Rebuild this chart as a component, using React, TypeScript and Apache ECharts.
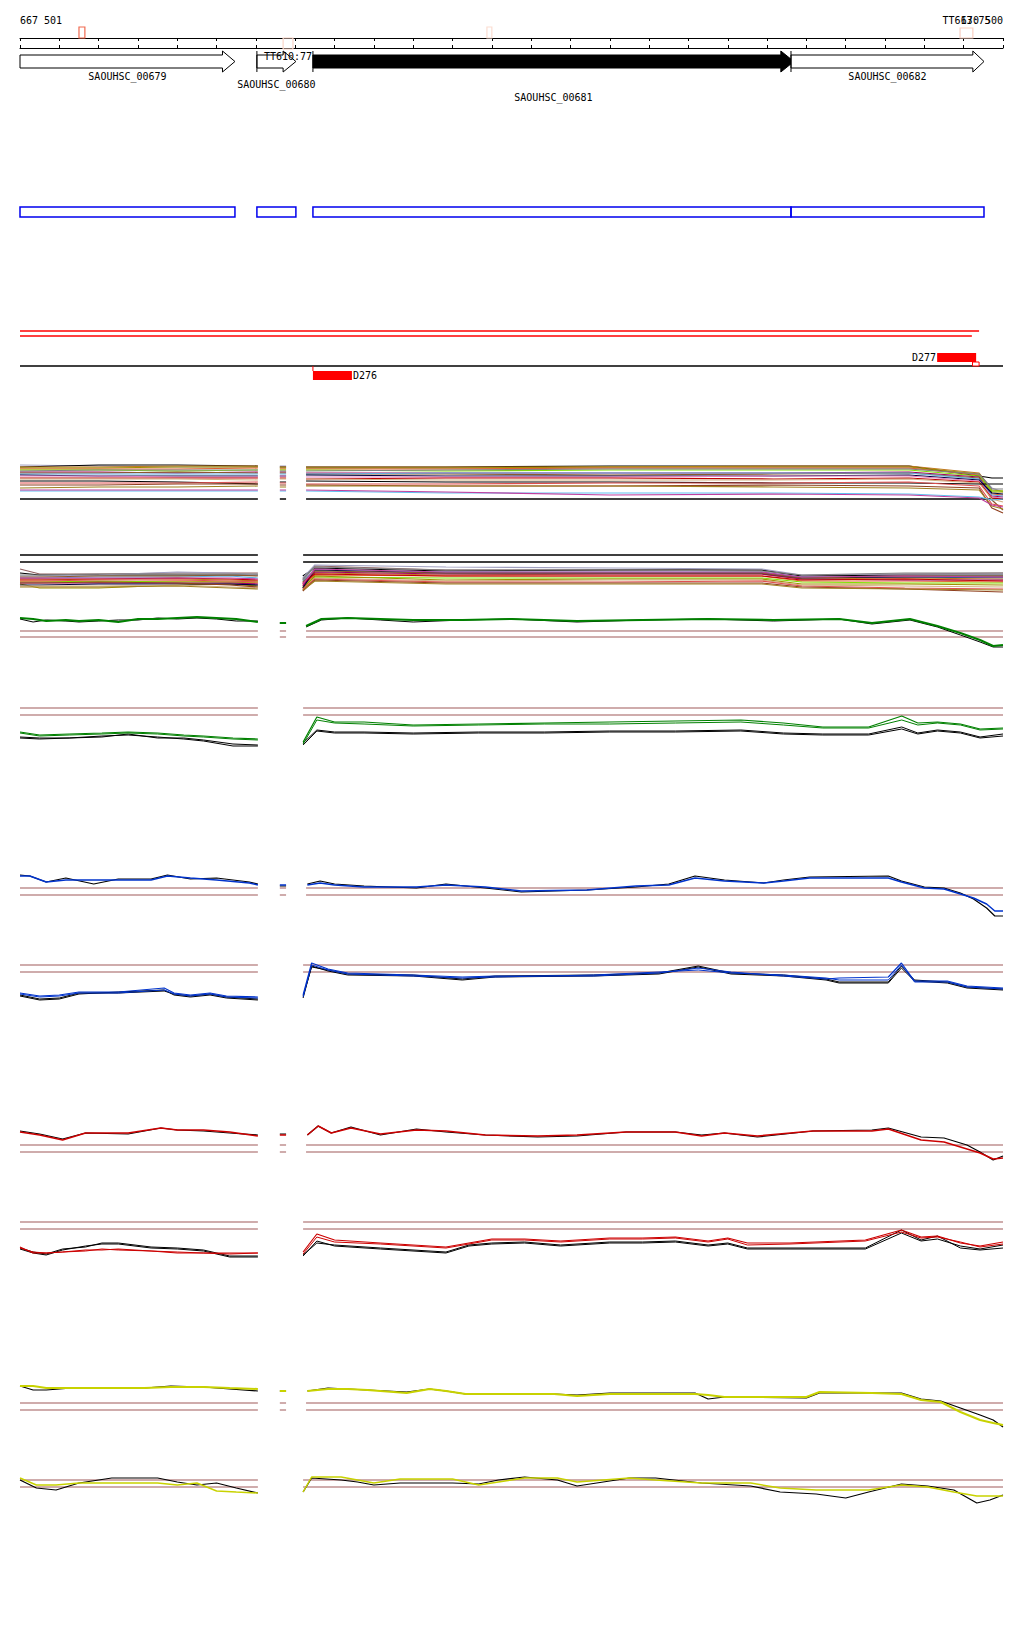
import React, { useEffect, useRef } from "react";
import * as echarts from "echarts";

// ---------------- data ----------------
const X_MIN = 0;
const X_MAX = 3000;
const TICK = 120;
const RULER_LABELS = ["667 501", "670 500"];
const SEGMENT_BREAKS = [760, 840];
const SEG_ODD = [[0, 726], [793, 812], [873, 3000]];
const SEG_EVEN = [[0, 726], [864, 3000]];

// ruler markers (TT sites)
const MARK_START = [180, 803, 1425, 2869];
const MARK_END = [198, 833, 1440, 2908];
const MARK_TOP = [33, 22, 33, 32];
const MARK_BOTTOM = [22, 11, 22, 22];
const MARK_COLOR = ["#f06a50", "#fbd5c8", "#fbddd2", "#f8cfc2"];
const MARK_LABEL = ["", "TT610:77", "", "TT613:75"];
const MARK_LABEL_V = [0, 4, 0, 40];

// genes
const GENE_NAMES = ["SAOUHSC_00679", "SAOUHSC_00680", "SAOUHSC_00681", "SAOUHSC_00682"];
const GENE_START = [0, 723, 894, 2353];
const GENE_END = [656, 842, 2362, 2942];
const GENE_HEAD = [618, 803, 2322, 2908];
const GENE_FILLED = [false, false, true, false];
const GENE_START_MARK = [false, true, true, true];
const GENE_LABEL_LEVEL = [0, 1, 2, 0];

// CDS boxes
const BOX_START = [0, 723, 894, 2353];
const BOX_END = [656, 842, 2353, 2942];

// feature track
const FEAT_RED_END = [2927, 2905];
const FEAT_RED_LEVEL = [49, 44];
const FEAT_AXIS_LEVEL = 14;
const D_NAMES = ["D276", "D277"];
const D_START = [894, 2799];
const D_END = [1013, 2918];
const D_TOP = [9, 27];
const D_BOTTOM = [0, 18];
const D_LABEL_SIDE = ["right", "left"];
const SMALL_BOX = [2907, 2927, 18, 14];

// panel 1 (multi-colour)
const X_P1 = [0, 240, 480, 726, 793, 812, 873, 1300, 1800, 2300, 2713, 2927, 2966, 3000];
const P1_COLORS = ["#a0a0c0", "#000000", "#c07820", "#a09000", "#e06030", "#80e000", "#a00060", "#8b5a2b", "#60b0e0", "#000040", "#e080c0", "#c00000", "#d0b080", "#000000", "#e05050", "#904020", "#a08020", "#60c0f0", "#c040a0", "#808080"];
const P1_VALUES = [
  [35, 34, 33, 33, 34, 34, 32, 32, 32, 32, 32, 26, 12, 8],
  [33, 35, 35, 34, 33, 33, 33, 33, 34, 34, 34, 24, 22, 22],
  [33, 33, 34, 34, 33, 33, 33, 33, 33, 34, 34, 27, 10, 9],
  [32, 32, 33, 33, 32, 32, 32, 32, 33, 33, 33, 26, 8, 8],
  [31, 31, 31, 32, 31, 31, 31, 31, 32, 32, 32, 25, 6, 5],
  [30, 30, 29, 30, 30, 30, 30, 29, 30, 30, 30, 24, 9, 9],
  [28, 28, 27, 28, 28, 28, 27, 27, 27, 27, 28, 23, 4, 3],
  [27, 27, 28, 27, 27, 27, 26, 26, 25, 26, 27, 22, 0, -10],
  [26, 26, 26, 26, 26, 26, 26, 27, 27, 27, 27, 21, 5, 4],
  [25, 24, 24, 24, 24, 24, 25, 24, 24, 24, 25, 20, 7, 6],
  [24, 24, 23, 23, 24, 24, 23, 23, 23, 24, 24, 19, 3, 2],
  [22, 22, 22, 22, 22, 22, 21, 22, 22, 21, 22, 18, 2, 1],
  [21, 21, 21, 20, 21, 21, 21, 20, 20, 20, 21, 17, 1, -2],
  [19, 19, 18, 16, 18, 18, 19, 18, 18, 17, 17, 16, 16, 16],
  [17, 17, 17, 18, 17, 17, 16, 16, 17, 17, 18, 14, -4, -6],
  [15, 15, 16, 16, 15, 15, 15, 14, 14, 15, 14, 12, -8, -13],
  [12, 13, 13, 14, 13, 13, 14, 14, 14, 13, 12, 10, -6, -9],
  [9, 9, 9, 9, 9, 9, 9, 7, 7, 7, 6, 3, 0, 1],
  [10, 10, 10, 10, 10, 10, 10, 8, 5, 6, 5, 2, -5, -7],
  [29, 30, 30, 30, 29, 29, 29, 30, 31, 31, 31, 26, 11, 11],
];

// panel 2 (multi-colour)
const X_P2 = [0, 60, 240, 480, 640, 726, 863, 900, 1300, 1800, 2264, 2386, 2700, 3000];
const P2_COLORS = ["#906060", "#000000", "#a0a0c0", "#60b0e0", "#c07820", "#e06030", "#80e000", "#a09000", "#a00060", "#000040", "#c00000", "#8b5a2b", "#d0b080", "#e05050", "#904020", "#c040a0", "#a08020", "#808080"];
const P2_VALUES = [
  [31, 26, 26, 27, 27, 27, 20, 34, 30, 30, 30, 24, 26, 27],
  [27, 25, 25, 25, 25, 25, 24, 32, 29, 30, 30, 24, 25, 25],
  [24, 24, 25, 28, 27, 25, 22, 35, 33, 32, 31, 25, 26, 26],
  [22, 22, 23, 23, 24, 22, 19, 30, 28, 28, 28, 23, 23, 22],
  [20, 20, 21, 21, 20, 19, 16, 27, 25, 26, 26, 21, 22, 21],
  [19, 19, 18, 19, 18, 17, 15, 25, 24, 24, 24, 19, 19, 18],
  [18, 18, 19, 18, 18, 18, 13, 23, 22, 22, 22, 18, 17, 17],
  [16, 12, 12, 15, 16, 14, 12, 24, 20, 21, 21, 16, 16, 15],
  [17, 17, 17, 17, 17, 16, 14, 28, 26, 26, 26, 21, 20, 20],
  [15, 15, 16, 16, 16, 15, 12, 30, 27, 27, 27, 22, 23, 23],
  [21, 21, 21, 22, 21, 20, 17, 26, 24, 24, 24, 20, 21, 19],
  [23, 23, 24, 24, 25, 24, 18, 29, 27, 27, 27, 22, 24, 24],
  [14, 14, 14, 15, 13, 12, 10, 22, 19, 20, 20, 15, 14, 13],
  [19, 19, 20, 20, 19, 18, 11, 21, 18, 18, 19, 14, 12, 11],
  [17, 17, 18, 17, 15, 13, 9, 20, 17, 17, 17, 13, 11, 8],
  [22, 22, 22, 22, 22, 21, 16, 31, 28, 28, 28, 23, 24, 23],
  [13, 13, 13, 14, 12, 11, 10, 19, 16, 16, 16, 12, 11, 10],
  [25, 25, 26, 26, 26, 26, 21, 33, 30, 30, 29, 25, 27, 27],
];

// panel 3 (green)
const X_P3 = [0, 40, 80, 140, 180, 240, 300, 360, 420, 480, 540, 600, 660, 726, 793, 812, 873, 920, 1000, 1100, 1200, 1350, 1500, 1700, 1900, 2100, 2300, 2500, 2600, 2716, 2800, 2870, 2930, 2970, 3000];
const P3_COLORS = ["#000000", "#008000"];
const P3_VALUES = [
  [41, 38, 40, 39, 38, 39, 40, 40, 42, 41, 42, 41, 39, 39, 37, 37, 33, 40, 42, 40, 38, 40, 41, 38, 40, 41, 39, 41, 36, 40, 33, 25, 18, 13, 13],
  [42, 41, 39, 40, 39, 40, 38, 41, 41, 42, 43, 42, 41, 38, 37, 37, 34, 41, 42, 41, 40, 40, 41, 39, 40, 41, 40, 41, 37, 41, 34, 27, 20, 14, 15],
];

// panel 4 (green)
const X_P4 = [0, 60, 150, 250, 330, 420, 500, 560, 650, 726, 864, 906, 960, 1050, 1200, 1400, 1600, 1800, 2000, 2200, 2330, 2450, 2590, 2691, 2740, 2800, 2870, 2930, 3000];
const P4_COLORS = ["#000000", "#000000", "#008000", "#008000"];
const P4_VALUES = [
  [23, 22, 22, 23, 26, 22, 22, 20, 16, 15, 17, 30, 28, 28, 27, 28, 28, 29, 29, 30, 27, 26, 26, 33, 27, 30, 28, 23, 26],
  [22, 21, 22, 24, 25, 23, 21, 19, 14, 14, 15, 29, 27, 27, 26, 27, 27, 28, 28, 29, 26, 25, 25, 31, 26, 29, 27, 22, 24],
  [28, 25, 26, 27, 28, 27, 25, 24, 22, 21, 18, 43, 38, 38, 35, 36, 37, 38, 39, 40, 37, 33, 33, 44, 37, 38, 36, 31, 32],
  [27, 24, 25, 26, 27, 26, 24, 23, 21, 20, 16, 40, 37, 36, 34, 35, 36, 36, 37, 38, 35, 32, 32, 40, 35, 37, 35, 30, 31],
];

// panel 5 (blue)
const X_P5 = [0, 30, 80, 140, 225, 300, 400, 450, 520, 600, 700, 726, 793, 812, 877, 916, 960, 1050, 1210, 1300, 1420, 1530, 1730, 1880, 1980, 2060, 2150, 2270, 2330, 2410, 2650, 2690, 2760, 2820, 2870, 2910, 2950, 2975, 3000];
const P5_COLORS = ["#000000", "#0033cc"];
const P5_VALUES = [
  [55, 54, 48, 52, 46, 51, 51, 55, 51, 52, 48, 46, 44, 44, 46, 49, 46, 44, 42, 46, 42, 38, 40, 43, 46, 54, 50, 47, 50, 53, 54, 49, 43, 42, 37, 31, 22, 14, 14],
  [54, 54, 48, 50, 50, 50, 50, 54, 52, 50, 47, 45, 45, 45, 45, 47, 45, 43, 43, 45, 43, 39, 40, 44, 45, 52, 49, 47, 49, 52, 52, 48, 42, 41, 36, 32, 26, 19, 19],
];

// panel 6 (blue)
const X_P6 = [0, 60, 120, 180, 300, 440, 470, 520, 580, 630, 726, 864, 890, 940, 1000, 1200, 1350, 1450, 1750, 1950, 2070, 2170, 2330, 2460, 2500, 2650, 2690, 2730, 2830, 2890, 3000];
const P6_COLORS = ["#000000", "#000000", "#0033cc", "#0033cc"];
const P6_VALUES = [
  [15, 11, 12, 17, 17, 19, 16, 14, 16, 13, 11, 14, 43, 40, 36, 35, 31, 34, 35, 37, 44, 37, 35, 31, 28, 28, 44, 30, 28, 23, 21],
  [14, 10, 11, 16, 18, 20, 15, 13, 15, 12, 10, 12, 44, 39, 35, 34, 30, 33, 34, 36, 43, 36, 34, 30, 27, 27, 42, 29, 27, 22, 20],
  [17, 14, 15, 18, 18, 22, 17, 15, 17, 14, 13, 15, 47, 41, 37, 35, 33, 34, 34, 37, 42, 38, 34, 31, 32, 33, 47, 29, 29, 24, 22],
  [16, 13, 14, 17, 17, 20, 16, 14, 16, 13, 12, 13, 45, 40, 36, 34, 32, 33, 35, 38, 40, 37, 35, 32, 30, 30, 45, 28, 28, 23, 21],
];

// panel 7 (red)
const X_P7 = [0, 60, 130, 200, 330, 430, 480, 560, 640, 726, 793, 812, 877, 910, 950, 1010, 1100, 1210, 1300, 1420, 1580, 1700, 1850, 2000, 2080, 2150, 2250, 2420, 2600, 2650, 2750, 2820, 2890, 2930, 2970, 3000];
const P7_COLORS = ["#000000", "#cc0000"];
const P7_VALUES = [
  [49, 46, 41, 47, 46, 52, 50, 49, 47, 45, 46, 46, 45, 54, 47, 53, 45, 51, 48, 45, 43, 44, 48, 48, 45, 47, 43, 49, 50, 52, 43, 42, 35, 28, 20, 24],
  [48, 45, 40, 47, 47, 52, 50, 50, 48, 44, 45, 45, 45, 54, 47, 52, 46, 50, 49, 45, 44, 45, 48, 48, 44, 47, 44, 49, 49, 51, 40, 38, 31, 27, 21, 22],
];

// panel 8 (red)
const X_P8 = [0, 40, 80, 130, 200, 250, 300, 400, 480, 560, 640, 726, 864, 906, 960, 1100, 1300, 1370, 1440, 1540, 1650, 1800, 1900, 2000, 2100, 2160, 2220, 2350, 2580, 2690, 2750, 2800, 2870, 2930, 3000];
const P8_COLORS = ["#000000", "#000000", "#cc0000", "#cc0000"];
const P8_VALUES = [
  [22, 18, 16, 21, 23, 27, 27, 23, 22, 20, 14, 14, 15, 27, 25, 22, 18, 25, 27, 28, 25, 28, 28, 29, 25, 27, 22, 22, 22, 40, 30, 34, 22, 20, 22],
  [21, 17, 15, 20, 24, 26, 26, 22, 21, 19, 13, 13, 14, 29, 24, 21, 17, 24, 26, 27, 24, 27, 27, 28, 24, 26, 21, 21, 21, 37, 29, 31, 24, 21, 25],
  [23, 17, 17, 18, 20, 20, 21, 19, 17, 17, 17, 17, 18, 36, 30, 27, 23, 27, 31, 31, 29, 32, 32, 33, 29, 32, 27, 27, 30, 40, 33, 34, 27, 24, 28],
  [22, 18, 17, 18, 19, 21, 20, 19, 18, 17, 16, 17, 16, 33, 28, 26, 22, 26, 30, 30, 28, 31, 31, 32, 28, 31, 25, 26, 29, 38, 32, 33, 28, 23, 26],
];

// panel 9 (yellow)
const X_P9 = [0, 40, 80, 160, 240, 300, 380, 460, 560, 640, 726, 793, 812, 877, 940, 1000, 1060, 1180, 1250, 1300, 1360, 1630, 1700, 1800, 2060, 2100, 2150, 2400, 2440, 2600, 2690, 2750, 2810, 2870, 2930, 2970, 3000];
const P9_COLORS = ["#000000", "#c8d200"];
const P9_VALUES = [
  [54, 50, 50, 52, 52, 52, 52, 54, 53, 51, 49, 49, 49, 49, 52, 51, 50, 48, 51, 49, 46, 46, 45, 47, 47, 41, 43, 42, 47, 47, 47, 41, 39, 32, 25, 20, 13],
  [54, 54, 52, 52, 52, 52, 52, 53, 53, 52, 51, 49, 49, 49, 51, 51, 50, 47, 51, 49, 46, 46, 44, 46, 46, 45, 43, 43, 48, 47, 46, 40, 38, 28, 20, 17, 15],
];

// panel 10 (yellow)
const X_P10 = [0, 50, 110, 180, 280, 420, 480, 540, 600, 660, 726, 864, 890, 980, 1030, 1080, 1160, 1320, 1400, 1460, 1540, 1640, 1700, 1860, 1940, 2080, 2230, 2320, 2430, 2520, 2590, 2690, 2770, 2850, 2920, 2960, 3000];
const P10_COLORS = ["#000000", "#c8d200"];
const P10_VALUES = [
  [40, 32, 30, 37, 42, 42, 38, 35, 37, 32, 27, 28, 42, 40, 38, 35, 37, 37, 36, 40, 43, 40, 34, 42, 42, 37, 34, 28, 26, 22, 28, 36, 34, 30, 17, 20, 25],
  [42, 35, 35, 37, 37, 37, 35, 37, 29, 28, 27, 28, 43, 43, 40, 37, 41, 41, 35, 38, 42, 42, 38, 42, 40, 37, 37, 32, 30, 30, 30, 35, 33, 28, 24, 24, 24],
];

// ---------------- layout / style ----------------
const GRID_LEFT = 20;
const GRID_WIDTH = 983;
const FONT = '10px "DejaVu Sans Mono"';
const REF_COLOR = "#a05a5a";

const PANELS = [
  { top: 455, height: 65, min: -20, max: 45, xs: X_P1, colors: P1_COLORS, values: P1_VALUES, segs: SEG_ODD, refs: [], blacks: [1], widths: [] as number[] },
  { top: 540, height: 60, min: 0, max: 60, xs: X_P2, colors: P2_COLORS, values: P2_VALUES, segs: SEG_EVEN, refs: [], blacks: [45, 38], widths: [] },
  { top: 600, height: 60, min: 0, max: 60, xs: X_P3, colors: P3_COLORS, values: P3_VALUES, segs: SEG_ODD, refs: [29, 23], blacks: [], widths: [1, 2] },
  { top: 690, height: 70, min: 0, max: 70, xs: X_P4, colors: P4_COLORS, values: P4_VALUES, segs: SEG_EVEN, refs: [52, 45], blacks: [], widths: [1, 1, 1.2, 1] },
  { top: 860, height: 70, min: 0, max: 70, xs: X_P5, colors: P5_COLORS, values: P5_VALUES, segs: SEG_ODD, refs: [42, 35], blacks: [], widths: [1.2, 1.5] },
  { top: 940, height: 70, min: 0, max: 70, xs: X_P6, colors: P6_COLORS, values: P6_VALUES, segs: SEG_EVEN, refs: [45, 38], blacks: [], widths: [1, 1, 1.2, 1] },
  { top: 1110, height: 70, min: 0, max: 70, xs: X_P7, colors: P7_COLORS, values: P7_VALUES, segs: SEG_ODD, refs: [35, 28], blacks: [], widths: [1.2, 1.5] },
  { top: 1200, height: 70, min: 0, max: 70, xs: X_P8, colors: P8_COLORS, values: P8_VALUES, segs: SEG_EVEN, refs: [48, 41], blacks: [], widths: [1, 1, 1.2, 1] },
  { top: 1370, height: 70, min: 0, max: 70, xs: X_P9, colors: P9_COLORS, values: P9_VALUES, segs: SEG_ODD, refs: [37, 30], blacks: [], widths: [1.2, 2] },
  { top: 1450, height: 70, min: 0, max: 70, xs: X_P10, colors: P10_COLORS, values: P10_VALUES, segs: SEG_EVEN, refs: [40, 33], blacks: [], widths: [1.2, 1.5] },
];

function buildLine(xs: number[], vs: number[]) {
  const out: any[] = [];
  for (let i = 0; i < xs.length; i++) {
    if (i > 0) {
      for (const b of SEGMENT_BREAKS) {
        if (xs[i - 1] < b && xs[i] > b) out.push([b, null]);
      }
    }
    out.push([xs[i], vs[i]]);
  }
  return out;
}

function buildFlat(segs: number[][], v: number) {
  const out: any[] = [];
  segs.forEach((s, i) => {
    if (i > 0) out.push([(segs[i - 1][1] + s[0]) / 2, null]);
    out.push([s[0], v], [s[1], v]);
  });
  return out;
}

function textStyle(text: string, align: string, fill = "#000") {
  return {
    text,
    fill,
    font: FONT,
    align,
    textAlign: align,
    verticalAlign: "middle",
    textVerticalAlign: "middle",
  };
}

function buildOption() {
  const grids: any[] = [];
  const xAxes: any[] = [];
  const yAxes: any[] = [];
  const series: any[] = [];

  function addGrid(top: number, height: number, ymin: number, ymax: number, xExtra: any = null) {
    const i = grids.length;
    grids.push({ left: GRID_LEFT, width: GRID_WIDTH, top, height, containLabel: false, outerBoundsMode: "none", show: false });
    xAxes.push(
      xExtra
        ? { gridIndex: i, type: "value", min: X_MIN, max: X_MAX, interval: TICK, splitLine: { show: false }, ...xExtra }
        : { gridIndex: i, type: "value", min: X_MIN, max: X_MAX, show: false, splitLine: { show: false } }
    );
    yAxes.push({ gridIndex: i, type: "value", min: ymin, max: ymax, show: false, splitLine: { show: false } });
    return i;
  }

  // ruler: upper ticks + labels
  const rA = addGrid(38, 10, 0, 10, {
    show: true,
    position: "top",
    axisLine: { show: true, lineStyle: { color: "#000", width: 1 } },
    axisTick: { show: true, length: 3, lineStyle: { color: "#000" } },
    axisLabel: {
      show: true,
      margin: 13,
      color: "#000",
      fontFamily: "DejaVu Sans Mono",
      fontSize: 10,
      alignMinLabel: "left",
      alignMaxLabel: "right",
      showMinLabel: true,
      showMaxLabel: true,
      formatter: (v: number) => (v === X_MIN ? RULER_LABELS[0] : v === X_MAX ? RULER_LABELS[1] : ""),
    },
  });
  // ruler: lower ticks
  addGrid(28, 10, 0, 10, {
    show: true,
    position: "bottom",
    axisLine: { show: true, lineStyle: { color: "#000", width: 1 } },
    axisTick: { show: true, length: 3, lineStyle: { color: "#000" } },
    axisLabel: { show: false },
  });
  void rA;

  // markers
  const gM = addGrid(20, 40, 0, 40);
  series.push({
    type: "custom",
    xAxisIndex: gM,
    yAxisIndex: gM,
    silent: true,
    z: 5,
    data: MARK_START.map((s, i) => [s, MARK_END[i], MARK_TOP[i], MARK_BOTTOM[i]]),
    renderItem: (params: any, api: any) => {
      const i = params.dataIndex;
      const a = api.coord([api.value(0), api.value(2)]);
      const b = api.coord([api.value(1), api.value(3)]);
      const children: any[] = [
        { type: "rect", shape: { x: a[0], y: a[1], width: b[0] - a[0], height: b[1] - a[1] }, style: { fill: "rgba(255,255,255,0)", stroke: MARK_COLOR[i], lineWidth: 1.2 } },
      ];
      if (MARK_LABEL[i]) {
        const c = api.coord([(api.value(0) + api.value(1)) / 2, MARK_LABEL_V[i]]);
        children.push({ type: "text", x: c[0], y: c[1], style: textStyle(MARK_LABEL[i], "center") });
      }
      return { type: "group", children };
    },
  });

  // genes
  const gG = addGrid(40, 80, 0, 80);
  series.push({
    type: "custom",
    xAxisIndex: gG,
    yAxisIndex: gG,
    silent: true,
    z: 3,
    data: GENE_START.map((s, i) => [s, GENE_END[i], GENE_HEAD[i]]),
    renderItem: (params: any, api: any) => {
      const i = params.dataIndex;
      const s = api.value(0), e = api.value(1), h = api.value(2);
      const x0 = api.coord([s, 0])[0];
      const x1 = api.coord([e, 0])[0];
      const xh = api.coord([h, 0])[0];
      const yT = api.coord([s, 65])[1];
      const yB = api.coord([s, 52])[1];
      const yHT = api.coord([s, 69])[1];
      const yHB = api.coord([s, 48])[1];
      const yM = api.coord([s, 58.5])[1];
      const labelV = [44, 35.5, 22.5][GENE_LABEL_LEVEL[i]];
      const yL = api.coord([s, labelV])[1];
      const children: any[] = [
        {
          type: "polygon",
          shape: { points: [[x0, yT], [xh, yT], [xh, yHT], [x1, yM], [xh, yHB], [xh, yB], [x0, yB]] },
          style: { fill: GENE_FILLED[i] ? "#000" : "#fff", stroke: "#000", lineWidth: 1 },
        },
        { type: "text", x: (x0 + x1) / 2, y: yL, style: textStyle(GENE_NAMES[i], "center") },
      ];
      if (GENE_START_MARK[i]) {
        children.push({ type: "line", shape: { x1: x0, y1: yHT, x2: x0, y2: yHB }, style: { stroke: "#000", lineWidth: 1 } });
      }
      return { type: "group", children };
    },
  });

  // CDS boxes
  const gB = addGrid(200, 20, 0, 20);
  series.push({
    type: "custom",
    xAxisIndex: gB,
    yAxisIndex: gB,
    silent: true,
    data: BOX_START.map((s, i) => [s, BOX_END[i]]),
    renderItem: (params: any, api: any) => {
      const a = api.coord([api.value(0), 13]);
      const b = api.coord([api.value(1), 3]);
      return { type: "rect", shape: { x: a[0], y: a[1], width: b[0] - a[0], height: b[1] - a[1] }, style: { fill: "rgba(255,255,255,0)", stroke: "#0000ee", lineWidth: 1.5 } };
    },
  });

  // feature track
  const gF = addGrid(300, 80, 0, 80);
  FEAT_RED_END.forEach((e, i) => {
    series.push({
      type: "line", xAxisIndex: gF, yAxisIndex: gF, silent: true, symbol: "none",
      lineStyle: { color: "#ff0000", width: 1.3 },
      data: [[X_MIN, FEAT_RED_LEVEL[i]], [e, FEAT_RED_LEVEL[i]]],
    });
  });
  series.push({
    type: "line", xAxisIndex: gF, yAxisIndex: gF, silent: true, symbol: "none",
    lineStyle: { color: "#000", width: 1.3 },
    data: [[X_MIN, FEAT_AXIS_LEVEL], [X_MAX, FEAT_AXIS_LEVEL]],
  });
  series.push({
    type: "custom",
    xAxisIndex: gF,
    yAxisIndex: gF,
    silent: true,
    z: 4,
    data: D_START.map((s, i) => [s, D_END[i], D_TOP[i], D_BOTTOM[i]]),
    renderItem: (params: any, api: any) => {
      const i = params.dataIndex;
      const a = api.coord([api.value(0), api.value(2)]);
      const b = api.coord([api.value(1), api.value(3)]);
      const cy = (a[1] + b[1]) / 2;
      const children: any[] = [
        { type: "rect", shape: { x: a[0], y: a[1], width: b[0] - a[0], height: b[1] - a[1] }, style: { fill: "#ff0000" } },
        D_LABEL_SIDE[i] === "right"
          ? { type: "text", x: b[0] + 1, y: cy, style: textStyle(D_NAMES[i], "left") }
          : { type: "text", x: a[0] - 1, y: cy, style: textStyle(D_NAMES[i], "right") },
      ];
      if (api.value(2) < FEAT_AXIS_LEVEL) {
        const l = api.coord([api.value(0), FEAT_AXIS_LEVEL]);
        children.push({ type: "line", shape: { x1: a[0], y1: l[1], x2: a[0], y2: a[1] }, style: { stroke: "#ff0000", lineWidth: 1 } });
      }
      return { type: "group", children };
    },
  });
  series.push({
    type: "custom",
    xAxisIndex: gF,
    yAxisIndex: gF,
    silent: true,
    z: 4,
    data: [SMALL_BOX],
    renderItem: (params: any, api: any) => {
      const a = api.coord([api.value(0), api.value(2)]);
      const b = api.coord([api.value(1), api.value(3)]);
      return { type: "rect", shape: { x: a[0], y: a[1], width: b[0] - a[0], height: b[1] - a[1] }, style: { fill: "#fff", stroke: "#ff0000", lineWidth: 1 } };
    },
  });

  // data panels
  PANELS.forEach((p) => {
    const g = addGrid(p.top, p.height, p.min, p.max);
    p.refs.forEach((v) => {
      series.push({
        type: "line", xAxisIndex: g, yAxisIndex: g, silent: true, symbol: "none",
        lineStyle: { color: REF_COLOR, width: 1.2 },
        data: buildFlat(p.segs, v),
      });
    });
    p.blacks.forEach((v) => {
      series.push({
        type: "line", xAxisIndex: g, yAxisIndex: g, silent: true, symbol: "none",
        lineStyle: { color: "#000", width: 1.3 },
        data: buildFlat(p.segs, v),
      });
    });
    p.values.forEach((vs, i) => {
      series.push({
        type: "line", xAxisIndex: g, yAxisIndex: g, silent: true, symbol: "none",
        lineStyle: { color: p.colors[i], width: p.widths[i] || 1.2 },
        data: buildLine(p.xs, vs),
      });
    });
  });

  return {
    animation: false,
    backgroundColor: "#ffffff",
    grid: grids,
    xAxis: xAxes,
    yAxis: yAxes,
    series,
  };
}

export default function App() {
  const ref = useRef<HTMLDivElement>(null);
  useEffect(() => {
    if (!ref.current) return;
    const chart = echarts.init(ref.current, null, { renderer: "svg", width: 1024, height: 1640 });
    chart.setOption(buildOption() as any);
    return () => chart.dispose();
  }, []);
  return (
    <div
      ref={ref}
      style={{ position: "absolute", left: 0, top: 0, width: 1024, height: 1640, background: "#fff" }}
    />
  );
}
